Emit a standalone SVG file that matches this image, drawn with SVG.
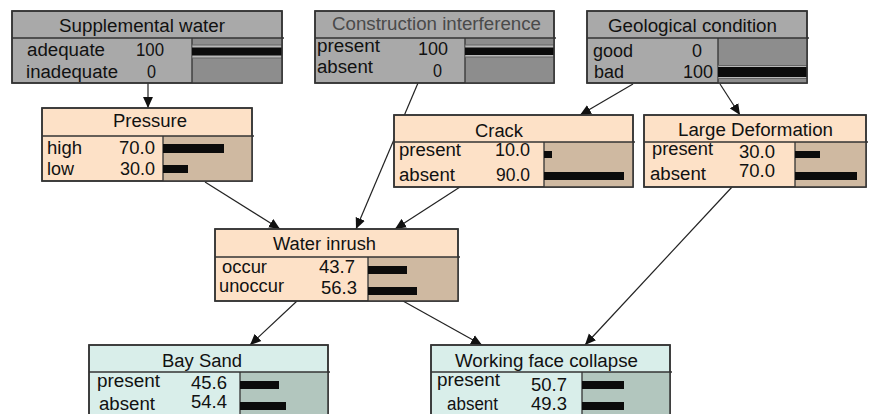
<svg xmlns="http://www.w3.org/2000/svg" width="871" height="414" viewBox="0 0 871 414">
<style>
text{font-family:"Liberation Sans",Arial,sans-serif;font-size:18px;fill:#111}
.box{stroke:#333;stroke-width:1.5}
.g{fill:#a9a9a9}.gb{fill:#8d8d8d}
.p{fill:#fde1c7}.pb{fill:#cfb9a1}
.c{fill:#d9eeea}.cb{fill:#b2c6be}
.sep{stroke:#333;stroke-width:1.3}
.bar{fill:#0b0b0b}
.conn{stroke:#222;stroke-width:1.2;fill:none;marker-end:url(#ah)}
.gt{fill:#4a4a4a}
</style>
<defs>
<marker id="ah" viewBox="0 0 10 10" refX="10" refY="5" markerWidth="11" markerHeight="11" markerUnits="userSpaceOnUse" orient="auto">
<path d="M0,0.5 L10,5 L0,9.5 Z" fill="#111"/>
</marker>
</defs>
<g id="connectors">
<line class="conn" x1="148" y1="83" x2="148" y2="108"/>
<line class="conn" x1="418" y1="83" x2="356" y2="229"/>
<line class="conn" x1="633" y1="84" x2="580" y2="115"/>
<line class="conn" x1="720" y1="84" x2="740" y2="115"/>
<line class="conn" x1="205" y1="182" x2="280" y2="229"/>
<line class="conn" x1="460" y1="187" x2="395" y2="229"/>
<line class="conn" x1="297" y1="301" x2="250" y2="345"/>
<line class="conn" x1="403" y1="301" x2="482" y2="345"/>
<line class="conn" x1="732" y1="187" x2="585" y2="345"/>
</g>
<g id="supplemental-water">
<rect class="box g" x="12" y="11" width="270" height="72"/>
<rect class="gb" x="192" y="38" width="90" height="45"/>
<line class="sep" x1="12" y1="38" x2="284" y2="38"/>
<line class="sep" x1="192" y1="38" x2="192" y2="83"/>
<rect x="192" y="45" width="90" height="13" fill="#b8b8b8" stroke="#666" stroke-width="1"/>
<rect class="bar" x="192" y="47.5" width="90" height="8"/>
<rect class="box" x="12" y="11" width="270" height="72" fill="none"/>
<text x="59" y="32" textLength="166" lengthAdjust="spacingAndGlyphs" fill="#222">Supplemental water</text>
<text x="27" y="56" textLength="78" lengthAdjust="spacingAndGlyphs">adequate</text>
<text x="136" y="56" textLength="28" lengthAdjust="spacingAndGlyphs">100</text>
<text x="26" y="78" textLength="92" lengthAdjust="spacingAndGlyphs">inadequate</text>
<text x="147" y="78" textLength="9" lengthAdjust="spacingAndGlyphs">0</text>
</g>
<g id="construction-interference">
<rect class="box g" x="315" y="11" width="239" height="72"/>
<rect class="gb" x="465" y="38" width="89" height="45"/>
<line class="sep" x1="315" y1="38" x2="556" y2="38"/>
<line class="sep" x1="465" y1="38" x2="465" y2="83"/>
<rect x="465" y="45" width="89" height="12" fill="#b8b8b8" stroke="#666" stroke-width="1"/>
<rect class="bar" x="465" y="47.5" width="89" height="7.5"/>
<rect class="box" x="315" y="11" width="239" height="72" fill="none"/>
<text x="332" y="30" textLength="209" lengthAdjust="spacingAndGlyphs" class="gt">Construction interference</text>
<text x="317" y="52" textLength="63" lengthAdjust="spacingAndGlyphs">present</text>
<text x="418" y="55" textLength="30" lengthAdjust="spacingAndGlyphs">100</text>
<text x="317" y="73" textLength="56" lengthAdjust="spacingAndGlyphs">absent</text>
<text x="433" y="77" textLength="9" lengthAdjust="spacingAndGlyphs">0</text>
</g>
<g id="geological-condition">
<rect class="box g" x="587" y="11" width="220" height="72"/>
<rect class="gb" x="718" y="38" width="89" height="45"/>
<line class="sep" x1="587" y1="38" x2="809" y2="38"/>
<line class="sep" x1="718" y1="38" x2="718" y2="83"/>
<rect x="718" y="65.5" width="89" height="13" fill="#b8b8b8" stroke="#666" stroke-width="1"/>
<rect class="bar" x="718" y="67" width="89" height="10"/>
<rect class="box" x="587" y="11" width="220" height="72" fill="none"/>
<text x="608" y="32" textLength="169" lengthAdjust="spacingAndGlyphs" fill="#505050">Geological condition</text>
<text x="593" y="57" textLength="40" lengthAdjust="spacingAndGlyphs">good</text>
<text x="692" y="57" textLength="10" lengthAdjust="spacingAndGlyphs">0</text>
<text x="594" y="78" textLength="30" lengthAdjust="spacingAndGlyphs">bad</text>
<text x="683" y="78" textLength="30" lengthAdjust="spacingAndGlyphs">100</text>
</g>
<g id="pressure">
<rect class="box p" x="42" y="108" width="210" height="73"/>
<rect class="pb" x="163" y="136" width="89" height="45"/>
<line class="sep" x1="42" y1="136" x2="254" y2="136"/>
<line class="sep" x1="163" y1="136" x2="163" y2="181"/>
<rect class="bar" x="163" y="144" width="61" height="9"/>
<rect class="bar" x="163" y="165" width="25" height="8"/>
<rect class="box" x="42" y="108" width="210" height="73" fill="none"/>
<text x="113" y="127" textLength="74" lengthAdjust="spacingAndGlyphs">Pressure</text>
<text x="47" y="154" textLength="35" lengthAdjust="spacingAndGlyphs">high</text>
<text x="119" y="154" textLength="36" lengthAdjust="spacingAndGlyphs">70.0</text>
<text x="47" y="175" textLength="27" lengthAdjust="spacingAndGlyphs">low</text>
<text x="120" y="175" textLength="35" lengthAdjust="spacingAndGlyphs">30.0</text>
</g>
<g id="crack">
<rect class="box p" x="394" y="115" width="239" height="72"/>
<rect class="pb" x="544" y="142" width="89" height="45"/>
<line class="sep" x1="394" y1="142" x2="635" y2="142"/>
<line class="sep" x1="544" y1="142" x2="544" y2="187"/>
<rect class="bar" x="544" y="151" width="8" height="7"/>
<rect class="bar" x="544" y="172" width="80" height="8"/>
<rect class="box" x="394" y="115" width="239" height="72" fill="none"/>
<text x="475" y="137" textLength="48" lengthAdjust="spacingAndGlyphs">Crack</text>
<text x="399" y="156" textLength="62" lengthAdjust="spacingAndGlyphs">present</text>
<text x="495" y="156" textLength="35" lengthAdjust="spacingAndGlyphs">10.0</text>
<text x="399" y="181" textLength="56" lengthAdjust="spacingAndGlyphs">absent</text>
<text x="496" y="181" textLength="34" lengthAdjust="spacingAndGlyphs">90.0</text>
</g>
<g id="large-deformation">
<rect class="box p" x="644" y="115" width="222" height="72"/>
<rect class="pb" x="795" y="142" width="71" height="45"/>
<line class="sep" x1="644" y1="142" x2="868" y2="142"/>
<line class="sep" x1="795" y1="142" x2="795" y2="187"/>
<rect class="bar" x="795" y="151" width="25" height="7"/>
<rect class="bar" x="795" y="172" width="62" height="8"/>
<rect class="box" x="644" y="115" width="222" height="72" fill="none"/>
<text x="678" y="136" textLength="155" lengthAdjust="spacingAndGlyphs">Large Deformation</text>
<text x="652" y="155" textLength="61" lengthAdjust="spacingAndGlyphs">present</text>
<text x="739" y="158" textLength="36" lengthAdjust="spacingAndGlyphs">30.0</text>
<text x="650" y="180" textLength="56" lengthAdjust="spacingAndGlyphs">absent</text>
<text x="739" y="177" textLength="36" lengthAdjust="spacingAndGlyphs">70.0</text>
</g>
<g id="water-inrush">
<rect class="box p" x="215" y="229" width="243" height="72"/>
<rect class="pb" x="368" y="257" width="90" height="44"/>
<line class="sep" x1="215" y1="257" x2="460" y2="257"/>
<line class="sep" x1="368" y1="257" x2="368" y2="301"/>
<rect class="bar" x="368" y="266" width="39" height="8"/>
<rect class="bar" x="368" y="287" width="49" height="8"/>
<rect class="box" x="215" y="229" width="243" height="72" fill="none"/>
<text x="273" y="250" textLength="103" lengthAdjust="spacingAndGlyphs">Water inrush</text>
<text x="222" y="273" textLength="45" lengthAdjust="spacingAndGlyphs">occur</text>
<text x="319" y="273" textLength="36" lengthAdjust="spacingAndGlyphs">43.7</text>
<text x="219" y="292" textLength="65" lengthAdjust="spacingAndGlyphs">unoccur</text>
<text x="321" y="294" textLength="36" lengthAdjust="spacingAndGlyphs">56.3</text>
</g>
<g id="bay-sand">
<rect class="box c" x="89" y="345" width="239" height="80"/>
<rect class="cb" x="240" y="372" width="88" height="53"/>
<line class="sep" x1="89" y1="372" x2="330" y2="372"/>
<line class="sep" x1="240" y1="372" x2="240" y2="425"/>
<rect class="bar" x="240" y="381" width="39" height="8"/>
<rect class="bar" x="240" y="402" width="46" height="8"/>
<rect class="box" x="89" y="345" width="239" height="80" fill="none"/>
<text x="162" y="367" textLength="80" lengthAdjust="spacingAndGlyphs">Bay Sand</text>
<text x="97" y="387" textLength="63" lengthAdjust="spacingAndGlyphs">present</text>
<text x="191" y="389" textLength="36" lengthAdjust="spacingAndGlyphs">45.6</text>
<text x="99" y="410" textLength="56" lengthAdjust="spacingAndGlyphs">absent</text>
<text x="191" y="408" textLength="36" lengthAdjust="spacingAndGlyphs">54.4</text>
</g>
<g id="working-face-collapse">
<rect class="box c" x="431" y="345" width="239" height="80"/>
<rect class="cb" x="582" y="372" width="88" height="53"/>
<line class="sep" x1="431" y1="372" x2="672" y2="372"/>
<line class="sep" x1="582" y1="372" x2="582" y2="425"/>
<rect class="bar" x="582" y="381" width="42" height="8"/>
<rect class="bar" x="582" y="402" width="42" height="8"/>
<rect class="box" x="431" y="345" width="239" height="80" fill="none"/>
<text x="455" y="367" textLength="183" lengthAdjust="spacingAndGlyphs">Working face collapse</text>
<text x="437" y="386" textLength="63" lengthAdjust="spacingAndGlyphs">present</text>
<text x="531" y="391" textLength="36" lengthAdjust="spacingAndGlyphs">50.7</text>
<text x="447" y="410" textLength="51" lengthAdjust="spacingAndGlyphs">absent</text>
<text x="531" y="410" textLength="36" lengthAdjust="spacingAndGlyphs">49.3</text>
</g>
</svg>
